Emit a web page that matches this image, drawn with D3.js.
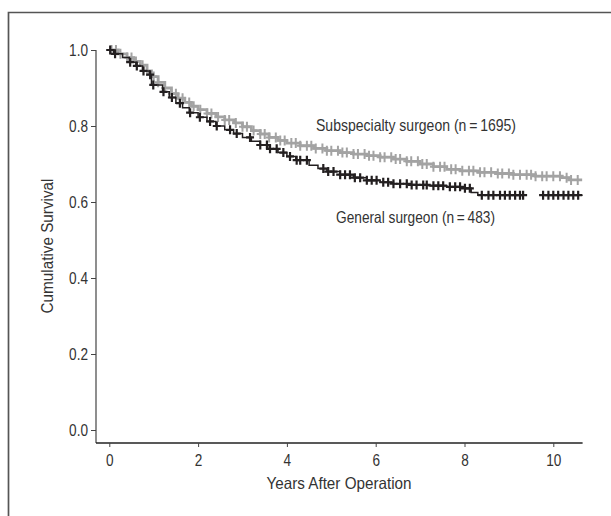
<!DOCTYPE html>
<html>
<head>
<meta charset="utf-8">
<script src="https://d3js.org/d3.v7.min.js"></script>
<style>
  body { margin: 0; background: #fff; }
  text { font-family: "Liberation Sans", Arial, sans-serif; fill: #333; }
</style>
</head>
<body>
<svg id="chart" width="611" height="516"></svg>
<script>
// Kaplan-Meier steps
var subTimes = [0, 0.2, 0.4, 0.55, 0.7, 0.85, 0.95, 1.1, 1.25, 1.4, 1.55, 1.7, 1.85, 2.0, 2.2, 2.4, 2.6, 2.8, 3.0, 3.2, 3.4, 3.6, 3.8, 4.0, 4.3, 4.6, 4.9, 5.2, 5.5, 5.8, 6.1, 6.4, 6.7, 7.0, 7.3, 7.6, 7.9, 8.3, 8.7, 9.1, 9.6, 10.2, 10.35, 10.65];
var subSurv  = [1.0, 0.99, 0.98, 0.97, 0.96, 0.945, 0.93, 0.915, 0.9, 0.885, 0.873, 0.862, 0.852, 0.843, 0.833, 0.824, 0.816, 0.808, 0.798, 0.788, 0.779, 0.77, 0.762, 0.755, 0.748, 0.741, 0.735, 0.73, 0.726, 0.722, 0.718, 0.713, 0.707, 0.70, 0.693, 0.686, 0.682, 0.678, 0.675, 0.672, 0.668, 0.664, 0.658, 0.658];

var genTimes = [0, 0.1, 0.3, 0.45, 0.6, 0.75, 0.9, 0.95, 1.2, 1.35, 1.5, 1.65, 1.8, 2.0, 2.2, 2.4, 2.6, 2.8, 3.0, 3.2, 3.4, 3.6, 3.8, 4.0, 4.2, 4.5, 4.7, 4.9, 5.2, 5.5, 5.8, 6.1, 6.4, 6.8, 7.2, 7.6, 7.95, 8.15, 8.3, 9.32, 9.5, 9.7, 10.66];
var genSurv  = [1.0, 0.99, 0.98, 0.968, 0.958, 0.945, 0.935, 0.908, 0.89, 0.875, 0.86, 0.848, 0.835, 0.823, 0.812, 0.8, 0.79, 0.78, 0.77, 0.76, 0.75, 0.74, 0.73, 0.72, 0.71, 0.697, 0.688, 0.68, 0.672, 0.664, 0.657, 0.652, 0.648, 0.645, 0.643, 0.64, 0.636, 0.625, 0.618, 0.618, null, 0.618, 0.618];

// censored observations (+ marks)
var subCensor = [0.05, 0.15, 0.25, 0.4, 0.5, 0.6, 0.75, 0.85, 1.0, 1.1, 1.25, 1.4, 1.5, 1.65, 1.8, 1.9, 2.05, 2.2, 2.3, 2.45, 2.6, 2.7, 2.85, 3.0, 3.1, 3.25, 3.4, 3.5, 3.6, 3.75, 3.85, 3.95, 4.1, 4.2, 4.3, 4.45, 4.55, 4.65, 4.8, 4.9, 5.0, 5.15, 5.25, 5.35, 5.5, 5.6, 5.75, 5.85, 5.95, 6.1, 6.2, 6.35, 6.45, 6.55, 6.7, 6.8, 6.95, 7.05, 7.15, 7.3, 7.45, 7.55, 7.7, 7.8, 7.95, 8.1, 8.2, 8.35, 8.45, 8.6, 8.75, 8.85, 9.0, 9.1, 9.25, 9.4, 9.5, 9.6, 9.75, 9.85, 10.0, 10.15, 10.3, 10.4, 10.55];
var genCensor = [0.02, 0.13, 0.47, 0.62, 0.77, 0.92, 0.99, 1.22, 1.41, 1.59, 1.82, 2.04, 2.27, 2.42, 2.72, 2.87, 3.17, 3.4, 3.55, 3.62, 3.77, 3.92, 4.07, 4.22, 4.3, 4.45, 4.82, 4.93, 5.05, 5.2, 5.31, 5.42, 5.53, 5.65, 5.8, 5.91, 6.02, 6.17, 6.28, 6.4, 6.55, 6.7, 6.81, 6.92, 7.07, 7.15, 7.3, 7.41, 7.52, 7.67, 7.79, 7.9, 8.01, 8.12, 8.39, 8.54, 8.65, 8.8, 8.91, 9.02, 9.14, 9.25, 9.32, 9.77, 9.89, 10.0, 10.11, 10.23, 10.34, 10.45, 10.56];

var xTicks = [0, 2, 4, 6, 8, 10];
var yTicks = [0, 0.2, 0.4, 0.6, 0.8, 1.0];
var labels = ["Subspecialty surgeon (n\u2009=\u20091695)", "General surgeon (n\u2009=\u2009483)"];

var svg = d3.select("#chart");

// squeeze text horizontally to look like a condensed face
function condense(sel, k) {
  sel.each(function() {
    var len = this.getComputedTextLength();
    d3.select(this).attr("textLength", len * k).attr("lengthAdjust", "spacingAndGlyphs");
  });
}

// outer frame
svg.append("path")
  .attr("d", "M8.5,516V12.5H611")
  .attr("fill", "none")
  .attr("stroke", "#555")
  .attr("stroke-width", 1.7);

var x = d3.scaleLinear().domain([0, 10]).range([109.3, 553.3]);
var y = d3.scaleLinear().domain([0, 1]).range([430, 50]);
var axisY = 443, axisX = 96;

// axes
svg.append("line").attr("x1", axisX).attr("x2", axisX).attr("y1", y(1)).attr("y2", axisY)
  .attr("stroke", "#444").attr("stroke-width", 1.2);
svg.append("line").attr("x1", axisX).attr("x2", x(10.66)).attr("y1", axisY).attr("y2", axisY)
  .attr("stroke", "#222").attr("stroke-width", 1.4);

var gx = svg.append("g").attr("transform", "translate(0," + axisY + ")")
  .call(d3.axisBottom(x).tickValues(xTicks).tickSize(4).tickPadding(5).tickFormat(d3.format("d")));
var gy = svg.append("g").attr("transform", "translate(" + axisX + ",0)")
  .call(d3.axisLeft(y).tickValues(yTicks).tickSize(5).tickPadding(3).tickFormat(d3.format(".1f")));
[gx, gy].forEach(function(g) {
  g.select(".domain").remove();
  g.selectAll(".tick line").attr("stroke", "#444");
  g.selectAll(".tick text").style("font-size", "17px").attr("fill", "#333");
  condense(g.selectAll(".tick text"), 0.8);
});
gx.selectAll(".tick text").attr("dy", "0.82em");

svg.append("text")
  .attr("x", 339).attr("y", 488.5)
  .attr("text-anchor", "middle")
  .style("font-size", "16.5px")
  .attr("textLength", 145).attr("lengthAdjust", "spacingAndGlyphs")
  .text("Years After Operation");
svg.append("text")
  .attr("transform", "translate(53,246) rotate(-90)")
  .attr("text-anchor", "middle")
  .style("font-size", "16.5px")
  .attr("textLength", 135).attr("lengthAdjust", "spacingAndGlyphs")
  .text("Cumulative Survival");

function stepAt(times, surv, t) {
  var i = d3.bisectRight(times, t) - 1;
  while (i > 0 && surv[i] == null) i--;
  return surv[Math.max(i, 0)];
}

function drawCurve(times, surv, censor, color, lw, mh, mw, mlw) {
  var pts = times.map(function(t, i) { return [t, surv[i]]; });
  var line = d3.line()
    .defined(function(d) { return d[1] != null; })
    .x(function(d) { return x(d[0]); })
    .y(function(d) { return y(d[1]); })
    .curve(d3.curveStepAfter);
  svg.append("path").datum(pts)
    .attr("d", line)
    .attr("fill", "none")
    .attr("stroke", color)
    .attr("stroke-width", lw);
  var g = svg.append("g");
  g.selectAll("path").data(censor).enter().append("path")
    .attr("d", function(t) {
      var cx = x(t), cy = y(stepAt(times, surv, t));
      return "M" + cx + "," + (cy - mh / 2) + "V" + (cy + mh / 2) +
        "M" + (cx - mw / 2) + "," + cy + "H" + (cx + mw / 2);
    })
    .attr("stroke", color)
    .attr("stroke-width", mlw)
    .attr("fill", "none");
}

drawCurve(subTimes, subSurv, subCensor, "#a3a3a3", 2.8, 10, 7, 2);
drawCurve(genTimes, genSurv, genCensor, "#231f20", 1.5, 9, 8, 2.2);

svg.append("text").attr("x", 316).attr("y", 131).style("font-size", "16.5px")
  .attr("textLength", 200).attr("lengthAdjust", "spacingAndGlyphs").text(labels[0]);
svg.append("text").attr("x", 336).attr("y", 223).style("font-size", "16.5px")
  .attr("textLength", 159).attr("lengthAdjust", "spacingAndGlyphs").text(labels[1]);
</script>
</body>
</html>
